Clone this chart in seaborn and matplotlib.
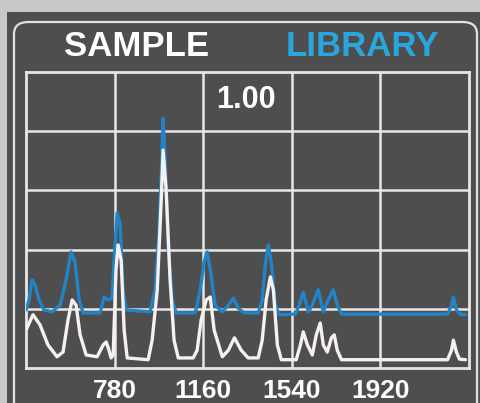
import numpy as np
import pandas as pd
import matplotlib
matplotlib.use("Agg")
import matplotlib.pyplot as plt
import seaborn as sns
from matplotlib.patches import FancyBboxPatch, Rectangle

# ---- data ----
sample_x = [400, 430, 460, 494, 533, 559, 580, 598, 615, 632, 658, 705, 731, 744, 756, 765,
            774, 786, 795, 808, 821, 834, 924, 941, 963, 980, 988, 1001, 1018, 1035, 1053,
            1117, 1134, 1151, 1173, 1190, 1207, 1242, 1268, 1294, 1323, 1353, 1396, 1413,
            1430, 1448, 1461, 1478, 1495, 1559, 1577, 1589, 1607, 1628, 1645, 1662, 1675,
            1692, 1710, 1722, 1735, 1753, 2208, 2225, 2233, 2246, 2259, 2285]
sample_y = [0.64, 0.90, 0.73, 0.39, 0.19, 0.27, 0.81, 1.15, 1.06, 0.56, 0.22, 0.19, 0.39,
            0.44, 0.30, 0.17, 0.22, 1.66, 2.08, 1.82, 0.64, 0.17, 0.14, 0.47, 1.32, 2.84,
            3.68, 3.01, 1.49, 0.47, 0.17, 0.17, 0.30, 0.81, 1.15, 1.20, 0.64, 0.19, 0.30,
            0.51, 0.30, 0.17, 0.17, 0.47, 1.15, 1.54, 1.32, 0.39, 0.14, 0.14, 0.39, 0.61,
            0.39, 0.22, 0.56, 0.76, 0.39, 0.27, 0.51, 0.56, 0.30, 0.14, 0.14, 0.30, 0.47,
            0.27, 0.15, 0.14]

library_x = [400, 413, 426, 439, 456, 477, 512, 546, 572, 593, 610, 628, 645, 718, 735, 752,
             769, 778, 791, 804, 816, 829, 932, 954, 971, 984, 988, 997, 1010, 1027, 1044,
             1126, 1147, 1164, 1177, 1194, 1211, 1242, 1268, 1289, 1310, 1336, 1396, 1413,
             1426, 1439, 1452, 1469, 1486, 1555, 1572, 1589, 1611, 1628, 1653, 1675, 1696,
             1718, 1735, 1753, 2208, 2225, 2233, 2246, 2263, 2285]
library_y = [0.98, 1.15, 1.49, 1.40, 1.15, 0.98, 0.95, 1.06, 1.49, 1.96, 1.79, 1.15, 0.93,
             0.93, 1.20, 1.15, 1.18, 1.82, 2.62, 2.42, 1.32, 0.98, 0.95, 1.32, 2.33, 3.68,
             4.22, 3.51, 1.99, 1.15, 0.93, 0.93, 1.32, 1.79, 1.96, 1.57, 1.06, 0.95, 1.06,
             1.18, 1.01, 0.93, 0.93, 1.15, 1.74, 2.08, 1.79, 1.06, 0.90, 0.91, 1.06, 1.28,
             0.95, 1.06, 1.32, 0.95, 1.15, 1.32, 1.06, 0.91, 0.91, 1.06, 1.20, 0.98, 0.91,
             0.90]

tick_values = [780, 1160, 1540, 1920]
tick_labels = ["780", "1160", "1540", "1920"]
match_score = "1.00"
title_sample = "SAMPLE"
title_library = "LIBRARY"

# ---- styling ----
PANEL = "#4e4e4e"
OUTER = "#c8c8c8"
GRID = "#e6e6e6"
WHITE_LINE = "#f6f0f0"
BLUE_LINE = "#2284c6"
BLUE_TEXT = "#2aa6df"

sns.set_style("dark", {"axes.facecolor": PANEL, "figure.facecolor": OUTER})
plt.rcParams["font.family"] = ["Liberation Sans", "DejaVu Sans"]

W, H = 481, 403
fig = plt.figure(figsize=(W / 100, H / 100), dpi=100)
fig.patch.set_facecolor(OUTER)

def fx(px):
    return px / W

def fy(py):
    return 1 - py / H

# dark panel
fig.patches.append(Rectangle((fx(7), 0), fx(481) - fx(7), fy(12), transform=fig.transFigure,
                             facecolor=PANEL, edgecolor="none", zorder=-2))
# rounded outline
fig.patches.append(FancyBboxPatch((fx(14), fy(420)), fx(477) - fx(14), fy(22) - fy(420),
                                  boxstyle="round,pad=0,rounding_size=0.03",
                                  transform=fig.transFigure, facecolor="none",
                                  edgecolor="#e4e2dc", linewidth=1.6, zorder=-1))

ax = fig.add_axes([fx(26), fy(368), fx(469) - fx(26), fy(72) - fy(368)])
ax.set_zorder(5)
ax.set_facecolor(PANEL)

df = pd.concat([
    pd.DataFrame({"wavenumber": library_x, "intensity": library_y, "series": "LIBRARY"}),
    pd.DataFrame({"wavenumber": sample_x, "intensity": sample_y, "series": "SAMPLE"}),
], ignore_index=True)

sns.lineplot(data=df, x="wavenumber", y="intensity", hue="series",
             palette={"LIBRARY": BLUE_LINE, "SAMPLE": WHITE_LINE},
             hue_order=["LIBRARY", "SAMPLE"], estimator=None, sort=False,
             linewidth=2.4, legend=False, ax=ax, zorder=3)

ax.set_xlim(400, 2300)
ax.set_ylim(0, 5)
ax.set_xticks(tick_values)
ax.set_xticklabels(tick_labels)
ax.set_yticks([1, 2, 3, 4])
ax.set_yticklabels([])
ax.tick_params(axis="both", length=0)
ax.tick_params(axis="x", colors="white", labelsize=19, pad=8)
for lab in ax.get_xticklabels():
    lab.set_fontweight("bold")
ax.set_xlabel("")
ax.set_ylabel("")
ax.grid(True, color=GRID, linewidth=1.8)
ax.set_axisbelow(True)
for s in ax.spines.values():
    s.set_visible(True)
    s.set_color(GRID)
    s.set_linewidth(2)

ax.text(0.497, 0.905, match_score, transform=ax.transAxes, ha="center", va="center",
        color="white", fontsize=22, fontweight="bold", zorder=5)

fig.text(fx(137), fy(47), title_sample, ha="center", va="center", color="white",
         fontsize=25, fontweight="bold")
fig.text(fx(362), fy(47), title_library, ha="center", va="center", color=BLUE_TEXT,
         fontsize=25, fontweight="bold")

fig.savefig("out.png", dpi=100, facecolor=OUTER)
